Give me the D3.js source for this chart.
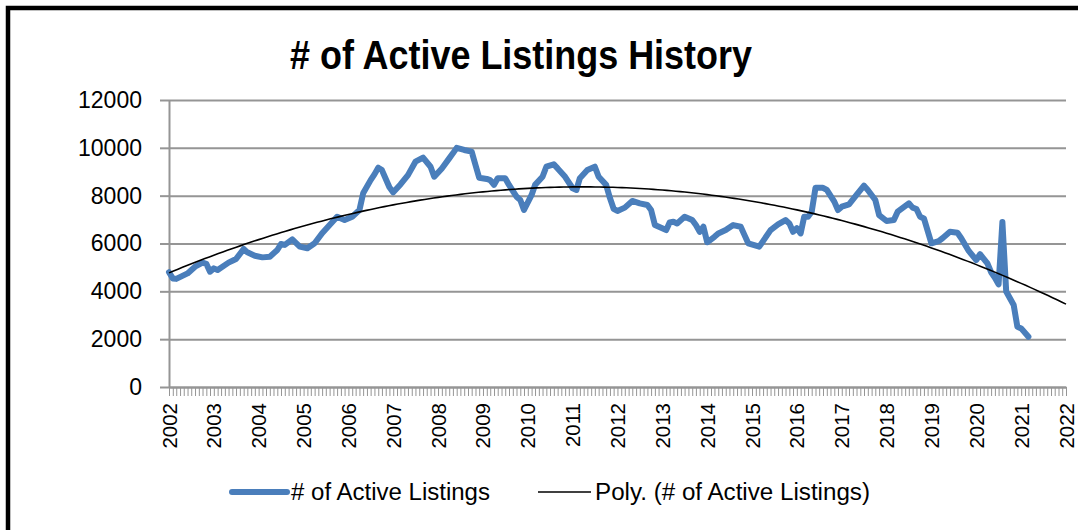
<!DOCTYPE html>
<html>
<head>
<meta charset="utf-8">
<script src="https://cdn.jsdelivr.net/npm/d3@7"></script>
<style>
  body { margin: 0; background: #fff; }
  svg { display: block; }
</style>
</head>
<body>
<div id="chart"></div>
<script>
// monthly readings, # of active listings
const months = [
  "2002-01","2002-02","2002-03","2002-06","2002-08","2002-10","2002-11","2002-12",
  "2003-01","2003-02","2003-05","2003-07","2003-09","2003-10","2003-12",
  "2004-02","2004-04","2004-06","2004-07","2004-08","2004-10","2004-12",
  "2005-02","2005-04","2005-06","2005-08","2005-10","2005-12",
  "2006-02","2006-04","2006-05","2006-07","2006-08","2006-09","2006-10","2006-12",
  "2007-01","2007-03","2007-05","2007-07","2007-09","2007-11","2007-12",
  "2008-02","2008-04","2008-05","2008-06","2008-08","2008-10","2008-11","2008-12",
  "2009-02","2009-03","2009-04","2009-05","2009-07","2009-08","2009-10","2009-11","2009-12",
  "2010-02","2010-03","2010-05","2010-06","2010-08","2010-09","2010-11",
  "2011-01","2011-02","2011-03","2011-05","2011-07","2011-08","2011-10","2011-11","2011-12",
  "2012-01","2012-03","2012-05","2012-07","2012-09","2012-10","2012-11",
  "2013-02","2013-03","2013-04","2013-05","2013-07","2013-09","2013-10","2013-11","2013-12",
  "2014-01","2014-03","2014-04","2014-06","2014-08","2014-10","2014-11","2014-12",
  "2015-03","2015-04","2015-06","2015-08","2015-10","2015-11","2015-12",
  "2016-01","2016-02","2016-03","2016-04","2016-05","2016-06","2016-08","2016-09","2016-11","2016-12",
  "2017-01","2017-03","2017-05","2017-07","2017-08","2017-10","2017-11",
  "2018-01","2018-03","2018-04","2018-07","2018-08","2018-09","2018-10","2018-11",
  "2019-01","2019-03","2019-04","2019-06","2019-08","2019-09","2019-11",
  "2020-01","2020-02","2020-04","2020-05","2020-06","2020-07","2020-08","2020-09","2020-11","2020-12",
  "2021-01","2021-03"
];
const listings = [
  4800,4540,4520,4750,5030,5200,5150,4820,
  4960,4890,5200,5350,5770,5630,5490,
  5420,5450,5730,5980,5940,6170,5870,
  5800,6010,6430,6770,7120,6980,
  7120,7400,8100,8650,8890,9170,9070,8350,
  8140,8470,8860,9420,9590,9210,8790,
  9140,9560,9770,10000,9910,9840,9280,8750,
  8700,8650,8450,8730,8730,8450,7960,7820,7400,
  8030,8450,8790,9210,9310,9140,8790,
  8310,8240,8730,9070,9210,8790,8450,7900,7450,
  7360,7500,7780,7680,7610,7400,6770,
  6560,6880,6910,6840,7120,6980,6770,6490,6700,
  6050,6280,6420,6560,6770,6700,6350,6010,
  5870,6100,6560,6800,6980,6840,6490,
  6640,6420,7120,7120,7330,8330,8330,8240,7750,7400,
  7540,7640,8030,8420,8240,7820,7190,
  6940,6980,7330,7680,7500,7440,7120,7050,
  6010,6100,6220,6490,6450,6220,5690,
  5310,5550,5170,4800,4570,4290,6900,3990,3430,2520,
  2450,2100
];
const yTicks = [0, 2000, 4000, 6000, 8000, 10000, 12000];
const yearLabels = ["2002","2003","2004","2005","2006","2007","2008","2009","2010","2011",
  "2012","2013","2014","2015","2016","2017","2018","2019","2020","2021","2022"];

const W = 1078, H = 530;
const plot = { left: 169, right: 1066, top: 100, bottom: 387 };
const blue = "#4a7ebb", grid = "#959595";

const parseMonth = d3.timeParse("%Y-%m");
const parseYear = d3.timeParse("%Y");
const data = months.map((m, i) => ({ date: parseMonth(m), value: listings[i] }));

const x = d3.scaleTime()
  .domain([parseYear(yearLabels[0]), parseYear(yearLabels[yearLabels.length - 1])])
  .range([plot.left, plot.right]);
const y = d3.scaleLinear().domain([0, 12000]).range([plot.bottom, plot.top]);

const svg = d3.select("#chart").append("svg")
  .attr("width", W).attr("height", H);

svg.append("rect").attr("width", W).attr("height", H).attr("fill", "#fff");

// outer frame
svg.append("rect")
  .attr("x", 8).attr("y", 8).attr("width", W + 20).attr("height", H + 20)
  .attr("fill", "none").attr("stroke", "#000").attr("stroke-width", 4.5);

svg.append("text")
  .attr("x", 521).attr("y", 69)
  .attr("text-anchor", "middle")
  .attr("textLength", 462).attr("lengthAdjust", "spacingAndGlyphs")
  .style("font-family", "'Liberation Sans Narrow', 'Liberation Sans', Arial, sans-serif")
  .style("font-weight", "bold").style("font-size", "41px")
  .text("# of Active Listings History");

// gridlines
svg.append("g")
  .attr("transform", `translate(${plot.left},0)`)
  .call(d3.axisLeft(y).tickValues(yTicks).tickSize(-(plot.right - plot.left)).tickFormat(""))
  .call(g => g.select(".domain").remove())
  .selectAll("line").attr("stroke", grid).attr("stroke-width", 2);

// y axis
const yAxis = svg.append("g")
  .attr("transform", `translate(${plot.left},0)`)
  .call(d3.axisLeft(y).tickValues(yTicks).tickSize(9).tickPadding(18).tickSizeOuter(0)
    .tickFormat(d3.format("d")));
yAxis.select(".domain").attr("stroke", grid).attr("stroke-width", 2);
yAxis.selectAll("line").attr("stroke", grid).attr("stroke-width", 2);
yAxis.selectAll("text")
  .style("font-family", "'Liberation Sans', Arial, sans-serif")
  .style("font-size", "23px").attr("fill", "#000");

// x axis with monthly ticks
const xAxis = svg.append("g")
  .attr("transform", `translate(0,${plot.bottom})`)
  .call(d3.axisBottom(x).ticks(d3.timeMonth.every(1)).tickSize(9).tickSizeOuter(0).tickFormat(""));
xAxis.select(".domain").attr("stroke", grid).attr("stroke-width", 2);
xAxis.selectAll("line").attr("stroke", grid).attr("stroke-width", 1);

svg.append("g").selectAll("text")
  .data(yearLabels)
  .join("text")
  .attr("transform", d => `translate(${x(parseYear(d)) + 7.5},403) rotate(-90)`)
  .attr("text-anchor", "end")
  .style("font-family", "'Liberation Sans', Arial, sans-serif")
  .style("font-size", "20.5px")
  .text(d => d);

// quadratic least-squares trend (Excel "Poly." order 2)
const t0 = x.domain()[0];
const yr = d => (d - t0) / (365.25 * 864e5);
let S = [0, 0, 0, 0, 0], T = [0, 0, 0];
data.forEach(d => {
  const t = yr(d.date);
  for (let k = 0; k < 5; k++) S[k] += Math.pow(t, k);
  for (let k = 0; k < 3; k++) T[k] += d.value * Math.pow(t, k);
});
function solve3(A, b) {
  const M = A.map((r, i) => [...r, b[i]]);
  for (let i = 0; i < 3; i++) {
    let p = i;
    for (let r = i + 1; r < 3; r++) if (Math.abs(M[r][i]) > Math.abs(M[p][i])) p = r;
    [M[i], M[p]] = [M[p], M[i]];
    for (let r = 0; r < 3; r++) {
      if (r === i) continue;
      const f = M[r][i] / M[i][i];
      for (let c = i; c < 4; c++) M[r][c] -= f * M[i][c];
    }
  }
  return M.map((r, i) => r[3] / r[i]);
}
const coef = solve3([[S[0], S[1], S[2]], [S[1], S[2], S[3]], [S[2], S[3], S[4]]], T);
const endYears = yr(x.domain()[1]);
const trend = d3.range(0, endYears + 0.001, 0.1).map(t => ({
  date: new Date(+t0 + t * 365.25 * 864e5),
  value: coef[0] + coef[1] * t + coef[2] * t * t
}));

const line = d3.line().x(d => x(d.date)).y(d => y(d.value));

svg.append("path").datum(data)
  .attr("d", line)
  .attr("fill", "none").attr("stroke", blue).attr("stroke-width", 6)
  .attr("stroke-linejoin", "round").attr("stroke-linecap", "round");

svg.append("path").datum(trend)
  .attr("d", line)
  .attr("fill", "none").attr("stroke", "#000").attr("stroke-width", 1.6);

// legend
const legendFont = "'Liberation Sans Narrow', 'Liberation Sans', Arial, sans-serif";
const legend = svg.append("g");
legend.append("line").attr("x1", 232).attr("x2", 287).attr("y1", 492).attr("y2", 492)
  .attr("stroke", blue).attr("stroke-width", 6).attr("stroke-linecap", "round");
legend.append("text").attr("x", 291).attr("y", 500)
  .attr("textLength", 199).attr("lengthAdjust", "spacingAndGlyphs")
  .style("font-family", legendFont).style("font-size", "23px")
  .text("# of Active Listings");
legend.append("line").attr("x1", 538).attr("x2", 591).attr("y1", 492).attr("y2", 492)
  .attr("stroke", "#000").attr("stroke-width", 1.6);
legend.append("text").attr("x", 595).attr("y", 500)
  .attr("textLength", 275).attr("lengthAdjust", "spacingAndGlyphs")
  .style("font-family", legendFont).style("font-size", "23px")
  .text("Poly. (# of Active Listings)");
</script>
</body>
</html>
